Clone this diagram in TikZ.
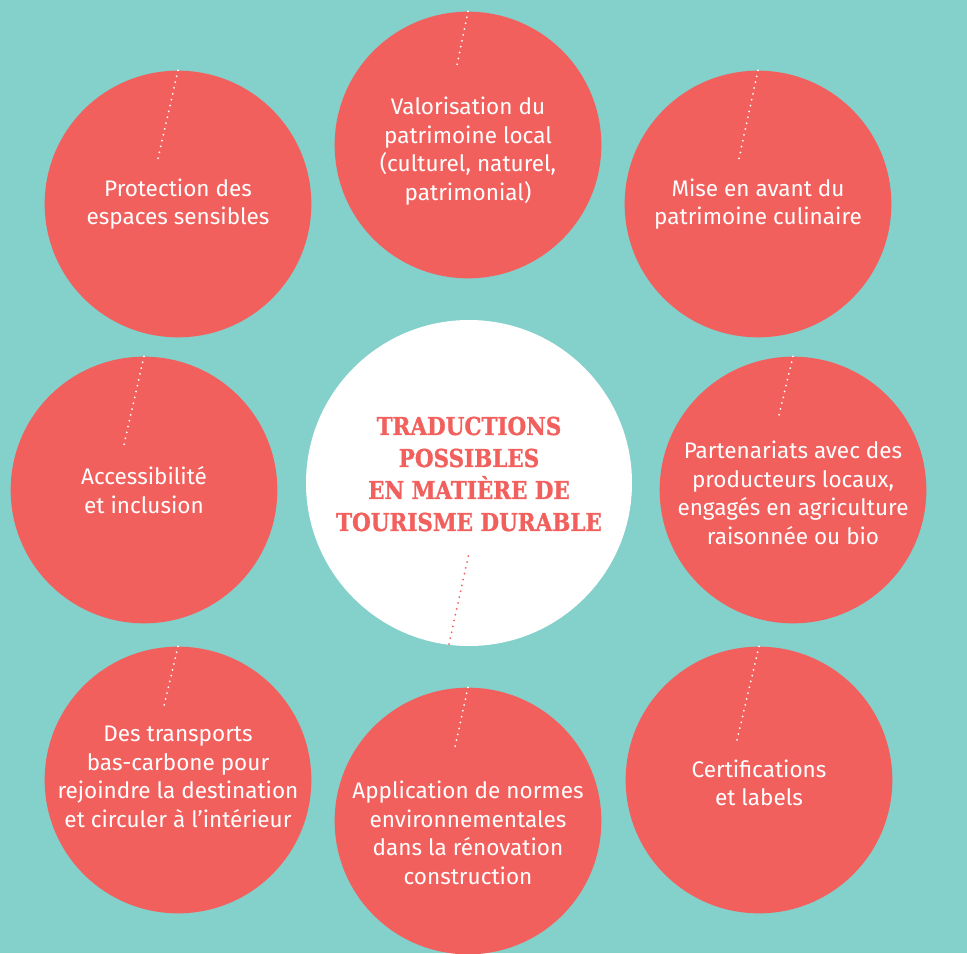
\documentclass[tikz,border=0pt]{standalone}
\usepackage{fontspec}
\setmainfont{Fira Sans}
\newfontfamily\titlefont[UprightFont={* Bold}, FakeStretch=0.87, FakeBold=1.2]{DejaVu Serif}
\definecolor{lagoon}{HTML}{84D0CB}
\definecolor{coral}{HTML}{F2605E}
\tikzset{
  bubble/.style={circle, fill=coral, minimum size=200pt, inner sep=0pt},
  hub/.style={circle, fill=white, minimum size=244.5pt, inner sep=0pt},
  caption/.style={align=center, text=white, inner sep=0pt,
    font=\fontsize{16.9}{21.5}\selectfont},
  headline/.style={align=center, text=coral, inner sep=0pt,
    font=\titlefont\fontsize{18.5}{24}\selectfont},
  dots/.style={white, line width=1.5pt, line cap=round, dash pattern=on 0pt off 4.5pt},
}
\begin{document}
\begin{tikzpicture}[x=0.75pt, y=-0.75pt]
  \fill[lagoon] (0,0) rectangle (967,953);
  \useasboundingbox (0,0) rectangle (967,953);

  % outer ring of themes
  \node[bubble] (tl) at (178,204) {};
  \node[bubble] (tm) at (468,145) {};
  \node[bubble] (tr) at (758,204) {};
  \node[bubble] (ml) at (144,490) {};
  \node[bubble] (mr) at (793,490) {};
  \node[bubble] (bl) at (178,780) {};
  \node[bubble] (bm) at (468,821) {};
  \node[bubble] (br) at (759,780) {};
  % central disc
  \node[hub] (hub) at (469,483) {};

  % dotted ticks
  \coordinate (tl-end) at (157,163);
  \coordinate (tm-end) at (456,70);
  \coordinate (tr-end) at (738,163);
  \coordinate (ml-end) at (123,449);
  \coordinate (mr-end) at (779,415);
  \coordinate (bl-end) at (164,706);
  \coordinate (bm-end) at (455,747);
  \coordinate (br-end) at (737,740);
  \coordinate (hub-start) at (449,644);
  \coordinate (hub-end) at (469,553);
  \foreach \n in {tl,tm,tr,ml,mr,bl,bm,br}
    \draw[dots] (\n.north) -- (\n-end);
  \draw[dots, coral] (hub-start) -- (hub-end);

  % labels
  \node[caption] (tl-txt) at (178,204) {Protection des\\espaces sensibles};
  \node[caption] (tm-txt) at (468,151) {Valorisation du\\patrimoine local\\(culturel, naturel,\\patrimonial)};
  \node[caption] (tr-txt) at (758,204) {Mise en avant du\\patrimoine culinaire};
  \node[caption] (ml-txt) at (144,490) {Accessibilité\\et inclusion};
  \node[caption] (mr-txt) at (793,493) {Partenariats avec des\\producteurs locaux,\\engagés en agriculture\\raisonnée ou bio};
  \node[caption] (bl-txt) at (178,777) {Des transports\\bas-carbone pour\\rejoindre la destination\\et circuler à l’intérieur};
  \node[caption] (bm-txt) at (468,833) {Application de normes\\environnementales\\dans la rénovation\\construction};
  \node[caption] (br-txt) at (759,783) {Certifications\\et labels};
  \node[headline] (hub-txt) at (469,474) {TRADUCTIONS\\POSSIBLES\\EN MATIÈRE DE\\TOURISME DURABLE};
\end{tikzpicture}
\end{document}
